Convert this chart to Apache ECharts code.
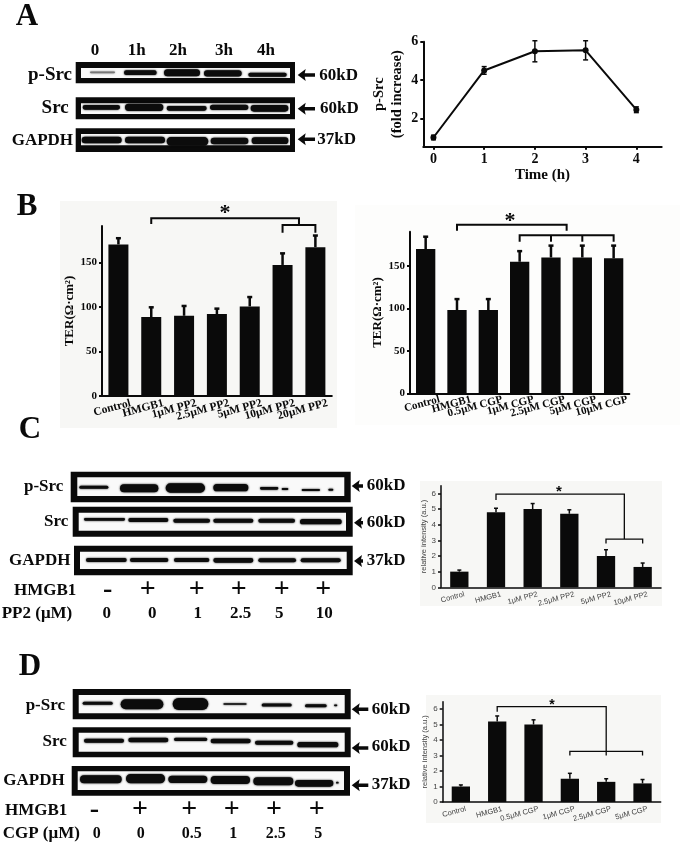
<!DOCTYPE html>
<html><head><meta charset="utf-8">
<style>html,body{margin:0;padding:0;background:#fff}#c{width:680px;height:845px}</style>
<script src="https://cdn.jsdelivr.net/npm/echarts@6/dist/echarts.min.js"></script>
</head><body><div id="c"></div>
<script>
// ---- data ----
const aTimes = [0, 1, 2, 3, 4];
const aFold = [1.0, 4.5, 5.5, 5.55, 2.45];
const aFoldErr = [0.12, 0.2, 0.55, 0.5, 0.15];
const aYTicks = [2, 4, 6];

const bPP2Cats = ['Control', 'HMGB1', '1μM PP2', '2.5μM PP2', '5μM PP2', '10μM PP2', '20μM PP2'];
const bPP2Vals = [170, 88.5, 90, 92, 100.5, 147, 167];
const bPP2Upper = [177, 99.5, 101, 98, 111, 160, 180];

const bCGPCats = ['Control', 'HMGB1', '0.5μM CGP', '1μM CGP', '2.5μM CGP', '5μM CGP', '10μM CGP'];
const bCGPVals = [170, 98, 98, 155, 160, 160, 159];
const bCGPUpper = [184.5, 111, 111, 167.5, 174, 174, 174];
const terTicks = [0, 50, 100, 150];

const cCats = ['Control', 'HMGB1', '1μM PP2', '2.5μM PP2', '5μM PP2', '10μM PP2'];
const cVals = [1, 4.8, 5, 4.7, 2, 1.3];
const cUpper = [1.1, 5.05, 5.35, 4.95, 2.4, 1.55];

const dCats = ['Control', 'HMGB1', '0.5μM CGP', '1μM CGP', '2.5μM CGP', '5μM CGP'];
const dVals = [1, 5.2, 5, 1.5, 1.3, 1.2];
const dUpper = [1.1, 5.55, 5.3, 1.85, 1.5, 1.45];
const intensityTicks = [0, 1, 2, 3, 4, 5, 6];

// ---- drawing helpers ----
const SERIF = '"Liberation Serif"';
const SANS = '"Liberation Sans"';
const INK = '#0a0a0a';
const g = [];
function txt(x, y, s, size, align, opt) {
  opt = opt || {};
  g.push({type: 'text', x: x, y: y, rotation: opt.rot || 0, z: 10,
    style: {text: s, font: (opt.weight || 'bold') + ' ' + size + 'px ' + (opt.family || SERIF),
      textAlign: align || 'left', textVerticalAlign: 'middle', fill: opt.fill || INK}});
}
function rect(x0, y0, x1, y1, fill, z) {
  g.push({type: 'rect', z: z === undefined ? 1 : z, shape: {x: x0, y: y0, width: x1 - x0, height: y1 - y0},
    style: {fill: fill}});
}
function arrow(tip, tail, y) {
  g.push({type: 'polygon', z: 5, shape: {points: [
    [tip, y], [tip + 8, y - 6], [tip + 7, y - 1.8], [tail, y - 1.8],
    [tail, y + 1.8], [tip + 7, y + 1.8], [tip + 8, y + 6]]}, style: {fill: INK}});
}
// a blot strip: outer/inner frame in px, bands in zoom-crop units relative to an origin
function blot(outer, inner, ox, oy, bands) {
  rect(outer[0], outer[1], outer[2], outer[3], INK, 1);
  rect(inner[0], inner[1], inner[2], inner[3], '#f9f9f9', 2);
  bands.forEach(function (b) {
    const col = b[4] || '#0c0c0c';
    const h = b[3] / 3;
    g.push({type: 'rect', z: 3,
      shape: {x: ox + b[0] / 3, y: oy + b[2] / 3 - h / 2, width: (b[1] - b[0]) / 3, height: h, r: h / 2},
      style: {fill: col, shadowBlur: 2, shadowColor: col}});
  });
}

// panel letters
txt(27, 17, 'A', 31, 'center');
txt(27, 207, 'B', 31, 'center');
txt(30, 430, 'C', 31, 'center');
txt(30, 667, 'D', 31, 'center');

// backgrounds of the scanned bar panels
rect(60, 201, 337, 428, '#f7f7f5', 0);
rect(355, 205, 680, 425, '#fdfdfc', 0);
rect(420, 481, 662, 606, '#f7f7f5', 0);
rect(426, 695, 661, 823, '#f7f7f5', 0);

// panel A blots
[['0', 95], ['1h', 136.7], ['2h', 178], ['3h', 224], ['4h', 266]].forEach(function (t) { txt(t[1], 51, t[0], 17, 'center'); });
blot([75.7, 62, 295, 83.3], [81, 68, 290, 78], 0, 0, [
  [270, 345, 217, 5, '#777'], [372, 470, 218, 14], [492, 600, 218, 21], [612, 725, 220, 19], [745, 860, 224, 12]]);
blot([75.7, 97.3, 295, 119.3], [81, 103.3, 290, 114], 0, 0, [
  [248, 360, 322, 14], [375, 490, 322, 22], [500, 620, 325, 14], [630, 745, 322, 16], [752, 865, 325, 20]]);
blot([75.7, 128.3, 295, 152], [81, 134, 290, 145.3], 0, 0, [
  [245, 365, 420, 20], [375, 495, 420, 20], [500, 625, 424, 26], [632, 745, 423, 20], [755, 865, 422, 20]]);
txt(72, 75, 'p-Src', 19, 'right'); txt(68.7, 107.7, 'Src', 19, 'right'); txt(11.7, 141, 'GAPDH', 17);
arrow(297.7, 315, 75); arrow(297.7, 315, 108.7); arrow(297.7, 315, 139.3);
txt(319.3, 75.7, '60kD', 17); txt(320, 109, '60kD', 17); txt(317.3, 139.5, '37kD', 17);

// panel C blots
blot([70.7, 471.7, 350.7, 502.3], [77.3, 477.3, 344.3, 496], 0, 430, [
  [238, 325, 172, 9], [360, 475, 175, 24], [497, 615, 174, 28], [640, 745, 173, 22],
  [780, 835, 175, 8], [845, 865, 177, 6], [905, 960, 180, 6], [985, 1000, 179, 6]]);
blot([72.7, 506.7, 352.7, 536.7], [78.7, 512.7, 346, 530.7], 0, 430, [
  [252, 375, 268, 8], [385, 505, 270, 12], [520, 630, 272, 12], [640, 760, 272, 12], [775, 885, 272, 12], [900, 1025, 275, 16]]);
blot([74, 545.7, 352.7, 575.3], [80, 551.7, 346.7, 569], 0, 430, [
  [258, 380, 390, 12], [390, 505, 390, 12], [522, 628, 390, 12], [640, 760, 391, 14], [775, 888, 391, 12], [902, 1022, 391, 12]]);
txt(63.3, 486.7, 'p-Src', 17, 'right'); txt(68.3, 521.7, 'Src', 17, 'right'); txt(9, 561, 'GAPDH', 17);
arrow(351.7, 363, 486); arrow(354, 363, 522.7); arrow(354, 363, 561);
txt(366.7, 486, '60kD', 17); txt(366.7, 522.7, '60kD', 17); txt(366.7, 561, '37kD', 17);
txt(14, 590.7, 'HMGB1', 17);
[['-', 107.7], ['+', 147.7], ['+', 196.7], ['+', 238.7], ['+', 281.7], ['+', 323.3]].forEach(function (t) { txt(t[1], 590, t[0], 28, 'center'); });
txt(1.7, 614, 'PP2 (μM)', 17);
[['0', 106.7], ['0', 152.3], ['1', 197.7], ['2.5', 240.7], ['5', 279.3], ['10', 324.3]].forEach(function (t) { txt(t[1], 614, t[0], 17, 'center'); });

// panel D blots
blot([72.7, 689, 350.7, 719.3], [78.7, 695, 344.7, 713.3], 0, 640, [
  [248, 338, 190, 9], [362, 490, 193, 30], [518, 625, 192, 36], [670, 740, 192, 5],
  [785, 875, 195, 9], [915, 980, 197, 9], [1002, 1012, 196, 5]]);
blot([72.7, 727.3, 350.7, 757.3], [78.7, 732.7, 344.7, 751.7], 0, 640, [
  [252, 372, 302, 12], [385, 505, 300, 14], [522, 622, 298, 10], [632, 752, 303, 14], [765, 880, 308, 12], [892, 1015, 314, 16]]);
blot([71.7, 766, 350, 795.7], [77.7, 771.3, 344, 790], 0, 640, [
  [240, 365, 418, 24], [378, 495, 416, 28], [505, 622, 418, 22], [632, 750, 420, 24], [760, 880, 424, 24], [885, 1000, 430, 20], [1008, 1016, 428, 5]]);
txt(65, 706, 'p-Src', 17, 'right'); txt(66.7, 741.7, 'Src', 17, 'right'); txt(3.3, 781, 'GAPDH', 17);
arrow(351.7, 368.3, 709.3); arrow(351.7, 368.3, 748); arrow(351.7, 368.3, 785.3);
txt(371.7, 709.3, '60kD', 17); txt(371.7, 746.7, '60kD', 17); txt(371.7, 785, '37kD', 17);
txt(5, 810.7, 'HMGB1', 17);
[['-', 94.3], ['+', 140], ['+', 189.3], ['+', 231.7], ['+', 274], ['+', 316.7]].forEach(function (t) { txt(t[1], 810, t[0], 28, 'center'); });
txt(2.7, 834, 'CGP (μM)', 17);
[['0', 96.7], ['0', 140.7], ['0.5', 191.7], ['1', 233.3], ['2.5', 275.7], ['5', 318.3]].forEach(function (t) { txt(t[1], 834, t[0], 16, 'center'); });

// significance stars
txt(225, 213, '*', 22, 'center');
txt(510, 221, '*', 22, 'center');
txt(559, 492, '*', 15, 'center', {family: SANS});
txt(552, 705, '*', 14, 'center', {family: SANS});

// ---- chart series helpers, everything goes through the axes ----
function errorBars(idx, lows, highs, cap, lw) {
  return {
    type: 'custom', xAxisIndex: idx, yAxisIndex: idx, z: 3, clip: false,
    data: lows.map(function (v, i) { return [i, v, highs[i]]; }),
    encode: {x: 0, y: [1, 2]},
    renderItem: function (p, api) {
      const a = api.coord([api.value(0), api.value(1)]);
      const b = api.coord([api.value(0), api.value(2)]);
      const st = {stroke: INK, lineWidth: lw, fill: null};
      return {type: 'group', children: [
        {type: 'line', shape: {x1: a[0], y1: a[1], x2: b[0], y2: b[1]}, style: st},
        {type: 'line', shape: {x1: b[0] - cap, y1: b[1], x2: b[0] + cap, y2: b[1]}, style: st}
      ]};
    }
  };
}
function pairBars(xs, lows, highs, idx, cap, lw) {
  return {
    type: 'custom', xAxisIndex: idx, yAxisIndex: idx, z: 3, clip: false,
    data: xs.map(function (x, i) { return [x, lows[i], highs[i]]; }),
    encode: {x: 0, y: [1, 2]},
    renderItem: function (p, api) {
      const a = api.coord([api.value(0), api.value(1)]);
      const b = api.coord([api.value(0), api.value(2)]);
      const st = {stroke: INK, lineWidth: lw, fill: null};
      return {type: 'group', children: [
        {type: 'line', shape: {x1: a[0], y1: a[1], x2: b[0], y2: b[1]}, style: st},
        {type: 'line', shape: {x1: b[0] - cap, y1: b[1], x2: b[0] + cap, y2: b[1]}, style: st},
        {type: 'line', shape: {x1: a[0] - cap, y1: a[1], x2: a[0] + cap, y2: a[1]}, style: st}
      ]};
    }
  };
}
// polylines in [category position, value] units; positions may lie between categories
function brackets(idx, lines, lw) {
  return {
    type: 'custom', xAxisIndex: idx, yAxisIndex: idx, z: 4, clip: false, silent: true,
    data: lines.map(function (l, i) { return [0, 0, i]; }),
    encode: {x: 0, y: 1},
    renderItem: function (p, api) {
      const line = lines[p.dataIndex];
      const pts = line.map(function (q) {
        const lo = Math.floor(q[0]), f = q[0] - lo;
        const c0 = api.coord([lo, q[1]]);
        const c1 = f ? api.coord([lo + 1, q[1]]) : c0;
        return [c0[0] + (c1[0] - c0[0]) * f, c0[1]];
      });
      return {type: 'polyline', shape: {points: pts}, style: {stroke: INK, lineWidth: lw, fill: null, lineJoin: 'miter'}};
    }
  };
}
function barSeries(idx, vals, w) {
  return {type: 'bar', xAxisIndex: idx, yAxisIndex: idx, data: vals, barWidth: w, z: 2, itemStyle: {color: INK}};
}
function xCat(idx, cats, font, size, rot, col, shift, margin, lw) {
  return {
    type: 'category', gridIndex: idx, data: cats, boundaryGap: true,
    axisLine: {lineStyle: {color: INK, width: lw}}, axisTick: {show: false},
    axisLabel: {interval: 0, rotate: rot, margin: margin, fontFamily: font, fontWeight: font === SERIF ? 'bold' : 'normal',
      fontSize: size, color: col, align: 'right', verticalAlign: 'top', padding: [0, shift, 0, 0]}
  };
}
function yVal(idx, max, ticks, name, gap, font, size, nameSize, col, lw) {
  return {
    type: 'value', gridIndex: idx, min: 0, max: max, splitLine: {show: false},
    name: name, nameLocation: 'middle', nameRotate: 90, nameGap: gap,
    nameTextStyle: {fontFamily: font, fontWeight: font === SERIF ? 'bold' : 'normal', fontSize: nameSize, color: col},
    axisLine: {show: true, onZero: false, lineStyle: {color: INK, width: lw}},
    axisTick: {show: true, length: 3, customValues: ticks, lineStyle: {color: INK, width: lw}},
    axisLabel: {customValues: ticks, margin: 5, fontFamily: font, fontWeight: font === SERIF ? 'bold' : 'normal', fontSize: size, color: col}
  };
}

const option = {
  animation: false,
  backgroundColor: '#fff',
  graphic: g,
  grid: [
    {left: 423.3, top: 41.7, width: 238.4, height: 105},
    {left: 102, top: 226, width: 229.8, height: 170},
    {left: 410, top: 231.7, width: 219.3, height: 161.6},
    {left: 441, top: 485.7, width: 220, height: 101.6},
    {left: 442.7, top: 701.7, width: 218, height: 100.3}
  ],
  xAxis: [
    {type: 'value', gridIndex: 0, min: -0.2, max: 4.5, splitLine: {show: false},
      name: 'Time (h)', nameLocation: 'middle', nameGap: 19,
      nameTextStyle: {fontFamily: SERIF, fontWeight: 'bold', fontSize: 15, color: INK},
      axisLine: {onZero: false, lineStyle: {color: INK, width: 2}},
      axisTick: {length: 3, customValues: aTimes, lineStyle: {color: INK, width: 2}},
      axisLabel: {customValues: aTimes, margin: 6, fontFamily: SERIF, fontWeight: 'bold', fontSize: 14, color: INK}},
    xCat(1, bPP2Cats, SERIF, 11.5, 15, INK, -11, 4, 2),
    xCat(2, bCGPCats, SERIF, 11, 15, INK, -13, 4, 2),
    xCat(3, cCats, SANS, 7.5, 15, '#444', -4, 4, 1.5),
    xCat(4, dCats, SANS, 7.5, 15, '#444', -4, 4, 1.5)
  ],
  yAxis: [
    {type: 'value', gridIndex: 0, min: 0.52, max: 6, splitLine: {show: false},
      name: 'p-Src\n(fold increase)', nameLocation: 'middle', nameRotate: 90, nameGap: 17,
      nameTextStyle: {fontFamily: SERIF, fontWeight: 'bold', fontSize: 14.5, color: INK, lineHeight: 18},
      axisLine: {show: true, onZero: false, lineStyle: {color: INK, width: 2}},
      axisTick: {show: true, length: 3, customValues: aYTicks, lineStyle: {color: INK, width: 2}},
      axisLabel: {customValues: aYTicks, margin: 5, fontFamily: SERIF, fontWeight: 'bold', fontSize: 14, color: INK}},
    yVal(1, 190.7, terTicks, 'TER(Ω·cm²)', 23, SERIF, 11, 13, INK, 2),
    yVal(2, 190.4, terTicks, 'TER(Ω·cm²)', 19, SERIF, 11, 13, INK, 2),
    yVal(3, 6.49, intensityTicks, 'relative intensity (a.u.)', 9, SANS, 8, 7.5, '#444', 1.5),
    yVal(4, 6.47, intensityTicks, 'relative intensity (a.u.)', 9, SANS, 8, 7.5, '#444', 1.5)
  ],
  series: [
    {type: 'line', xAxisIndex: 0, yAxisIndex: 0, z: 3, data: aTimes.map(function (t, i) { return [t, aFold[i]]; }),
      symbol: 'circle', symbolSize: 6, lineStyle: {color: INK, width: 2}, itemStyle: {color: INK}},
    pairBars(aTimes, aFold.map(function (v, i) { return v - aFoldErr[i]; }), aFold.map(function (v, i) { return v + aFoldErr[i]; }), 0, 2.5, 1.5),

    barSeries(1, bPP2Vals, 20),
    errorBars(1, bPP2Vals, bPP2Upper, 2.5, 2.5),
    brackets(1, [[[1, 193], [1, 199.4], [5.5, 199.4], [5.5, 191.9]], [[5, 183], [5, 191.9], [6, 191.9], [6, 183]]], 2),

    barSeries(2, bCGPVals, 19.3),
    errorBars(2, bCGPVals, bCGPUpper, 2.5, 2.5),
    brackets(2, [[[1, 191.5], [1, 198.6], [4.5, 198.6], [4.5, 191.5]], [[3, 178.6], [3, 186.2], [6, 186.2], [6, 178.6]], [[4, 186.2], [4, 178.6]], [[5, 186.2], [5, 178.6]]], 2),

    barSeries(3, cVals, 18.3),
    errorBars(3, cVals, cUpper, 2, 1.5),
    brackets(3, [[[1, 5.57], [1, 5.95], [4.5, 5.95], [4.5, 3.08]], [[4, 2.8], [4, 3.08], [5, 3.08], [5, 2.8]]], 1.3),

    barSeries(4, dVals, 18.3),
    errorBars(4, dVals, dUpper, 2, 1.5),
    brackets(4, [[[1, 5.82], [1, 6.15], [4, 6.15], [4, 3.0]], [[3, 3.0], [3, 3.27], [5, 3.27], [5, 3.0]]], 1.3)
  ]
};
const chart = echarts.init(document.getElementById('c'), null, {renderer: 'canvas'});
chart.setOption(option);
</script></body></html>
